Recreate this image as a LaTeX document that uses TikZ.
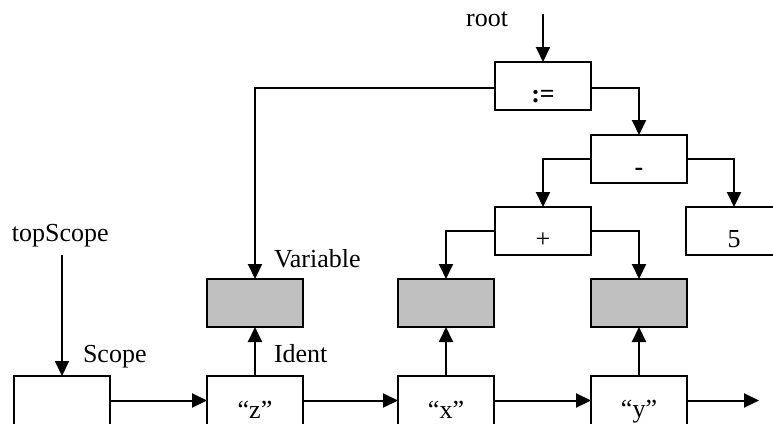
\documentclass[tikz,border=0pt]{standalone}
\usepackage{fontspec}
\setmainfont{Liberation Serif}
\usetikzlibrary{arrows.meta}
\begin{document}
\begin{tikzpicture}[x=1pt,y=-1pt,
  txt/.style={font=\fontsize{26}{31}\selectfont, inner sep=0pt, outer sep=0pt},
  box/.style={txt, draw, line width=2pt, fill=white, minimum width=96pt,
    text height=40pt, text depth=8pt, anchor=north west},
  lowbox/.style={box, text height=40pt, text depth=9pt},
  gbox/.style={box, fill=gray75},
  conn/.style={line width=2pt, -{Triangle[width=14pt,length=15pt]}},
  line/.style={line width=2pt}]
\definecolor{gray75}{RGB}{192,192,192}
\useasboundingbox (0,0) rectangle (773,423);
\clip (0,0) rectangle (773,423);
% tree nodes
\node[box] (assign) at (495,62) {\bfseries :=};
\node[box] (minus) at (591,135) {\bfseries -};
\node[box] (plus) at (495,207) {+};
\node[box] (five) at (686,207) {5};
% variable (gray) nodes
\node[gbox] (gz) at (207,279) {};
\node[gbox] (gx) at (398,279) {};
\node[gbox] (gy) at (591,279) {};
% ident list
\node[lowbox] (scope) at (14,376) {};
\node[lowbox] (iz) at (207,376) {};
\node[lowbox] (ix) at (398,376) {};
\node[lowbox] (iy) at (591,376) {};
\node[txt, anchor=base] (izt) at ([yshift=-42pt]iz.north) {“z”};
\node[txt, anchor=base] (ixt) at ([yshift=-42pt]ix.north) {“x”};
\node[txt, anchor=base] (iyt) at ([yshift=-41pt]iy.north) {“y”};
% labels
\node[txt, anchor=base east] (rootlbl) at (508,26) {root};
\node[txt, anchor=base west] (toplbl) at (12,241) {topScope};
\node[txt, anchor=base west] (scopelbl) at (83,362) {Scope};
\node[txt, anchor=base west] (identlbl) at (274,362) {Ident};
\node[txt, anchor=base west] (varlbl) at (274,267) {Variable};
\coordinate (rootstart) at ([yshift=48pt]assign.north);
\coordinate (topstart) at (62,255);
\coordinate (tailend) at ([xshift=72pt]iy.east);
% connectors
\draw[conn] (rootstart) -- (assign.north);
\draw[conn] ([yshift=-1.5pt]assign.west) -| (gz.north);
\draw[conn] ([yshift=-1.5pt]assign.east) -| (minus.north);
\draw[conn] (minus.west) -| (plus.north);
\draw[conn] (minus.east) -| (five.north);
\draw[conn] (plus.west) -| (gx.north);
\draw[conn] (plus.east) -| (gy.north);
\draw[conn] (topstart) -- (topstart |- scope.north);
\draw[conn] (iz.north) -- (gz.south);
\draw[conn] (ix.north) -- (gx.south);
\draw[conn] (iy.north) -- (gy.south);
\draw[conn] (scope.east) -- (iz.west);
\draw[conn] (iz.east) -- (ix.west);
\draw[conn] (ix.east) -- (iy.west);
\draw[conn] (iy.east) -- (tailend);
\end{tikzpicture}
\end{document}
